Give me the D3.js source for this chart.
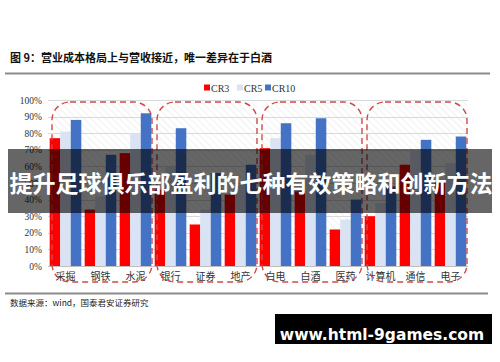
<!DOCTYPE html>
<html><head><meta charset="utf-8">
<script src="https://cdn.jsdelivr.net/npm/d3@7"></script>
<style>body{margin:0;background:#fff}svg{display:block}</style>
</head><body>
<script>
const categories = ["采掘","钢铁","水泥","银行","证券","地产","白电","白酒","医药","计算机","通信","电子"];
const seriesNames = ["CR3","CR5","CR10"];
const cr3 = [77,34,68,46,25,43,71,45,22,30,61,51];
const cr5 = [81,42,80,60,34,49,77,67,28,38,70,62];
const cr10 = [88,67,92,83,56,61,86,89,40,48,76,78];
const yTicks = [0,10,20,30,40,50,60,70,80,90,100];
const groups = [[0,2],[3,5],[6,8],[9,11]];
const colors = ["#ff0000","#dae3f3","#4472c4"];

const W=500,H=362;
const svg=d3.select("body").append("svg").attr("width",W).attr("height",H);
const defs=svg.append("defs");
const pat=defs.append("pattern").attr("id","hatch").attr("patternUnits","userSpaceOnUse")
  .attr("width",5).attr("height",5).attr("patternTransform","rotate(-45)");
pat.append("line").attr("x1",0).attr("y1",0).attr("x2",0).attr("y2",5).attr("stroke","#ececec").attr("stroke-width",1.5);

const x=d3.scaleBand().domain(categories).range([48,468]).paddingInner(0).paddingOuter(0);
const xs=d3.scaleBand().domain(seriesNames).range([0,x.bandwidth()]).paddingInner(0).paddingOuter(0.16);
const y=d3.scaleLinear().domain([0,100]).range([266,100]);

// title
svg.append("text").attr("x",10).attr("y",62).attr("font-family","Noto Sans CJK SC").attr("font-weight","bold")
  .attr("font-size",11).attr("fill","#111").text("图 9：营业成本格局上与营收接近，唯一差异在于白酒");
svg.append("line").attr("x1",5).attr("x2",490).attr("y1",73.5).attr("y2",73.5).attr("stroke","#8c8c8c").attr("stroke-width",2);

// hatch background within group rects
const rx0 = g => x(categories[groups[g][0]])+4;
const rx1 = g => x(categories[groups[g][1]])+x.bandwidth()-1;
svg.selectAll(".hb").data(groups).join("rect").attr("x",(d,i)=>rx0(i)).attr("y",102)
  .attr("width",(d,i)=>rx1(i)-rx0(i)).attr("height",y(0)-102).attr("fill","url(#hatch)");

// gridlines
svg.selectAll(".grid").data(yTicks).join("line").attr("x1",48).attr("x2",468)
  .attr("y1",d=>Math.round(y(d))+0.5).attr("y2",d=>Math.round(y(d))+0.5)
  .attr("stroke",d=>d===0?"#bfbfbf":"#d9d9d9").attr("stroke-width",1);

// y axis labels
const yAxis=d3.axisLeft(y).tickValues(yTicks).tickFormat(d=>d+"%").tickSize(0).tickPadding(6);
const ya=svg.append("g").attr("transform","translate(48,0)").call(yAxis);
ya.select(".domain").remove();
ya.selectAll("text").attr("font-family","Liberation Serif").attr("font-size",9.5).attr("fill","#333");

// bars
const data=[cr3,cr5,cr10];
const sg=svg.selectAll(".series").data(seriesNames).join("g").attr("fill",(d,i)=>colors[i]);
sg.selectAll("rect").data((s,i)=>categories.map((c,j)=>({c,s,v:data[i][j]}))).join("rect")
  .attr("x",d=>x(d.c)+xs(d.s)).attr("width",xs.bandwidth())
  .attr("y",d=>y(d.v)).attr("height",d=>y(0)-y(d.v));

// x labels
const xAxis=d3.axisBottom(x).tickSize(0).tickPadding(7);
const xa=svg.append("g").attr("transform","translate(0,266)").call(xAxis);
xa.select(".domain").remove();
xa.selectAll("text").attr("font-family","Noto Sans CJK SC").attr("font-size",10).attr("fill","#333");

// dashed rounded rects
svg.selectAll(".grp").data(groups).join("rect").attr("x",(d,i)=>rx0(i)).attr("y",102)
  .attr("width",(d,i)=>rx1(i)-rx0(i)).attr("height",180).attr("rx",18).attr("ry",18)
  .attr("fill","none").attr("stroke","#d04a4a").attr("stroke-width",1.4).attr("stroke-dasharray","6,4");

// legend
const lg=svg.append("g").attr("transform","translate(204,88)");
const lx=[0,33,61];
seriesNames.forEach((s,i)=>{
  lg.append("rect").attr("x",lx[i]).attr("y",-3.5).attr("width",6).attr("height",6).attr("fill",colors[i]);
  lg.append("text").attr("x",lx[i]+7).attr("y",3.5).attr("font-family","Liberation Serif").attr("font-size",10).attr("fill","#333").text(s);
});

// source
svg.append("line").attr("x1",5).attr("x2",488).attr("y1",293.5).attr("y2",293.5).attr("stroke","#8c8c8c").attr("stroke-width",2);
svg.append("text").attr("x",10).attr("y",305.5).attr("font-family","Noto Sans CJK SC").attr("font-size",8.5).attr("fill","#222")
  .text("数据来源：wind，国泰君安证券研究");

// overlay banner
svg.append("rect").attr("x",8).attr("y",149).attr("width",484).attr("height",64).attr("fill","rgba(0,0,0,0.6)");
svg.append("text").attr("x",251).attr("y",192).attr("text-anchor","middle").attr("font-family","Noto Sans CJK SC")
  .attr("font-weight","bold").attr("font-size",23).attr("fill","#fff").text("提升足球俱乐部盈利的七种有效策略和创新方法");

// watermark
svg.append("rect").attr("x",275).attr("y",314).attr("width",217).attr("height",30).attr("fill","#000");
svg.append("text").attr("x",382).attr("y",335).attr("text-anchor","middle").attr("dominant-baseline","middle")
  .attr("font-family","DejaVu Sans").attr("font-weight","bold").attr("font-size",15.5).attr("fill","#fff").text("www.html-9games.com");
</script>
</body></html>
